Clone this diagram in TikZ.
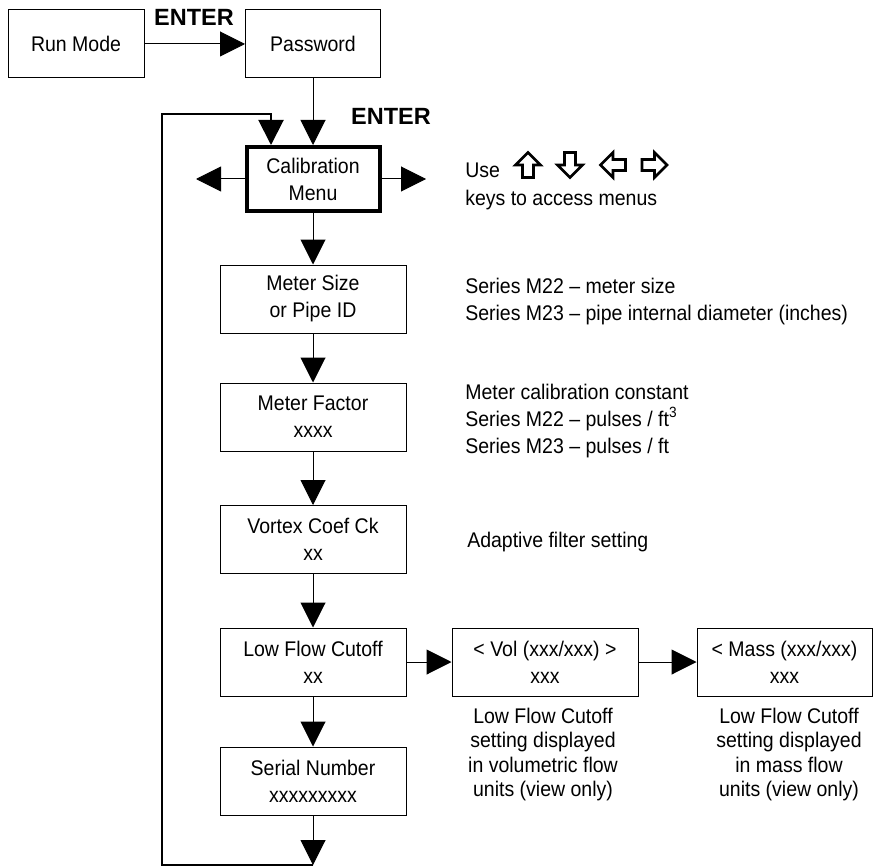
\documentclass[tikz,border=0pt]{standalone}
\usepackage{fontspec}
\setmainfont{Liberation Sans}[FakeStretch=0.92]
\newfontfamily\plainfont{Liberation Sans}
\usetikzlibrary{arrows.meta,positioning}
\tikzset{
  box/.style={draw, line width=0.75pt, minimum width=139.5pt, minimum height=51pt, inner sep=0pt, align=center},
  arr/.style={-{Triangle[length=18.75pt, width=18.75pt]}, line width=0.75pt},
  note/.style={anchor=base west, inner sep=0pt},
  capline/.style={anchor=base, inner sep=0pt},
  hint/.style={font=\plainfont\fontsize{17.6pt}{20pt}\selectfont\bfseries, inner sep=0pt},
  keyline/.style={draw, line width=1.9pt}}
% outlined key arrow, drawn pointing up and turned by #2
\newcommand{\keyarrow}[2]{\begin{scope}[shift={(#1)}, rotate=#2]
  \path[keyline] (0,-12.5) -- (12.5,0) -- (5.5,0) -- (5.5,12.5) -- (-5.5,12.5) -- (-5.5,0) -- (-12.5,0) -- cycle;
  \end{scope}}

\begin{document}
\begin{tikzpicture}[x=0.75pt, y=-0.75pt, font=\fontsize{15.9pt}{20.25pt}\selectfont]
\useasboundingbox (0,0) rectangle (873,866);
\node[box, minimum width=102pt] (run) at (76,44) {Run Mode};
\node[box, minimum width=101.25pt] (pwd) at (313,44) {Password};
\node[box, minimum width=99.75pt, minimum height=48pt, line width=3pt] (cal) at (313,179) {Calibration\\Menu};
\node[box] (msize) at (313,299) {Meter Size\\or Pipe ID};
\node[box] (mfac) at (313,417) {Meter Factor\\xxxx};
\node[box] (vcoef) at (313,539.5) {Vortex Coef Ck\\xx};
\node[box] (lfc) at (313,662) {Low Flow Cutoff\\xx};
\node[box] (ser) at (313,781) {Serial Number\\xxxxxxxxx};
\node[box] (vol) at (545,662) {< Vol (xxx/xxx) >\\xxx};
\node[box, minimum width=131.25pt] (mass) at (784.5,662) {< Mass (xxx/xxx)\\xxx};
\node[hint] (ent1) at (194,17) {ENTER};
\node[hint] (ent2) at (391,116) {ENTER};
\coordinate (calL) at (196,179);
\coordinate (calR) at (426,179);
\coordinate (loopend) at (313,865);
\coordinate (loopbl) at (162,865);
\coordinate (looptl) at (162,114);
\coordinate (loopin) at (271,145);
\draw[arr] (run) -- (pwd);
\draw[arr] (pwd) -- (cal);
\draw[arr] (cal) -- (calL);
\draw[arr] (cal) -- (calR);
\foreach \a/\b in {cal/msize, msize/mfac, mfac/vcoef, vcoef/lfc, lfc/ser, lfc/vol, vol/mass}
  \draw[arr] (\a) -- (\b);
\draw[arr] (ser) -- (loopend);
\draw[arr, line width=1.5pt] (loopend) -- (loopbl) -- (looptl) -| (loopin);
% notes on the right
\node[note] (use1) at (465,178) {Use};
\foreach \x/\r in {528/0, 570/180, 613/90, 654.5/-90}
  {\keyarrow{\x,165}{\r}}
\node[note] (use2) at (465,205) {keys to access menus};
\foreach \t [count=\i from 0] in {Series M22 -- meter size, Series M23 -- pipe internal diameter (inches)}
  \node[note] (sz\i) at (465,293+27*\i) {\t};
\foreach \t [count=\i from 0] in {Meter calibration constant, Series M22 -- pulses / ft\textsuperscript{3}, Series M23 -- pulses / ft}
  \node[note] (mf\i) at (465,399+27*\i) {\t};
\node[note] (vc0) at (467,547) {Adaptive filter setting};
\foreach \t [count=\i from 0] in {Low Flow Cutoff, setting displayed, in volumetric flow, units (view only)}
  \node[capline] (vl\i) at (543,723+24.5*\i) {\t};
\foreach \t [count=\i from 0] in {Low Flow Cutoff, setting displayed, in mass flow, units (view only)}
  \node[capline] (ms\i) at (789,723+24.5*\i) {\t};
\end{tikzpicture}
\end{document}
